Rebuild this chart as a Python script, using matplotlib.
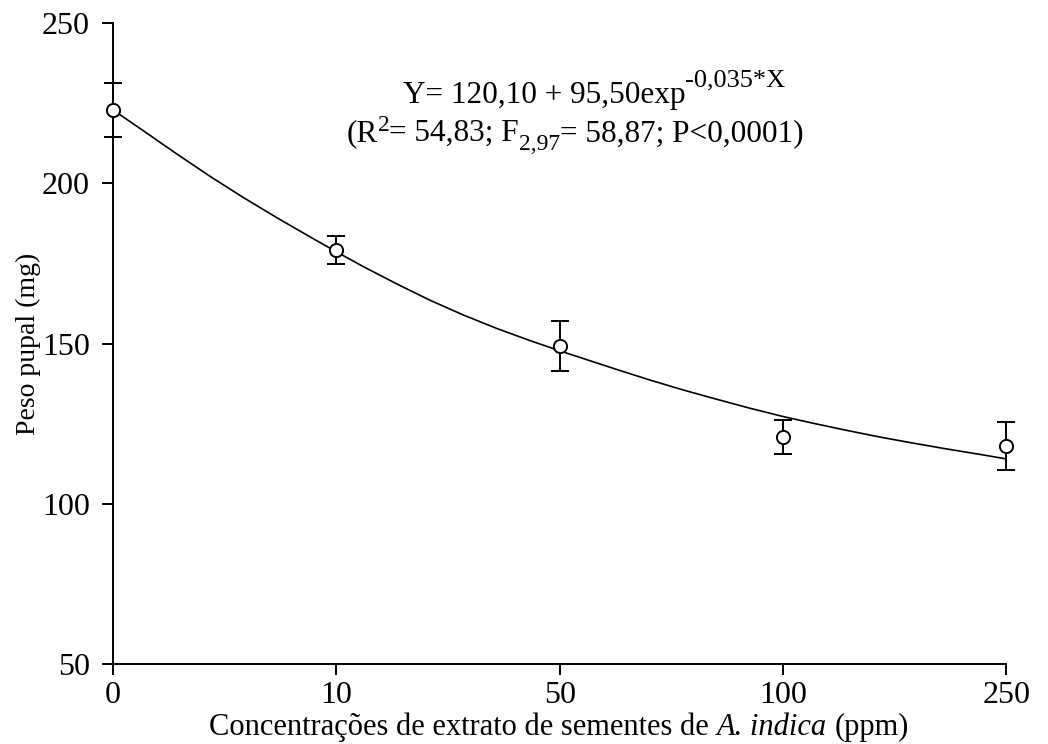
import numpy as np
import matplotlib
matplotlib.use("Agg")
import matplotlib.pyplot as plt
from matplotlib.transforms import IdentityTransform

plt.rcParams['font.family'] = ['Liberation Serif', 'DejaVu Serif']

# concentrations (categorical axis)
conc_labels = ['0', '10', '50', '100', '250']
peso_mean = [222.9, 179.2, 149.2, 120.8, 118.0]
peso_err = [8.3, 4.5, 7.9, 5.3, 7.4]

# fitted curve (position along category axis, value)
curve_pos = [0.000, 0.136, 0.285, 0.434, 0.583, 0.733, 0.882, 1.001, 1.121,
             1.271, 1.420, 1.569, 1.719, 1.868, 2.002, 2.107, 2.256, 2.405,
             2.554, 2.704, 2.853, 3.002, 3.137, 3.286, 3.436, 3.585, 3.734,
             3.883, 4.000]
curve_val = [222.9, 216.4, 209.2, 202.2, 195.6, 189.3, 183.3, 178.6, 174.0,
             168.6, 163.5, 158.9, 154.7, 150.9, 147.7, 145.3, 141.9, 138.6,
             135.5, 132.6, 129.8, 127.2, 125.1, 122.9, 120.8, 118.9, 117.1,
             115.4, 114.0]

fig = plt.figure(figsize=(10.48, 7.44), dpi=100)
ax = fig.add_axes([0.1078, 0.1075, 0.8524, 0.8615])

x = np.arange(len(conc_labels))
ax.plot(curve_pos, curve_val, color='black', lw=1.2, zorder=2)
ax.errorbar(x, peso_mean, yerr=peso_err, fmt='o', color='black',
            mfc='white', mec='black', ms=9.5, mew=1.4, elinewidth=1.4,
            capsize=6.8, capthick=1.4, clip_on=False, zorder=3)

ax.set_xlim(0, 4)
ax.set_ylim(50, 250)
ax.set_xticks(x)
ax.set_xticklabels(conc_labels)
ax.set_yticks([50, 100, 150, 200, 250])

for s in ['top', 'right']:
    ax.spines[s].set_visible(False)
for s in ['left', 'bottom']:
    ax.spines[s].set_linewidth(1.4)
ax.tick_params(direction='out', length=8, width=1.4, labelsize=23)
ax.tick_params(axis='y', pad=8.5)
ax.tick_params(axis='x', pad=4)

ax.set_ylabel("Peso pupal (mg)", fontsize=20, labelpad=1)


def chain_text(pieces, xc, yb):
    # pieces: (text, size, raise in px, style, space before); centred on xc
    renderer = fig.canvas.get_renderer()
    arts = []
    for s, size, dy, style, gap in pieces:
        t = fig.text(0, 0, s, fontsize=size, va='baseline', ha='left',
                     style=style, transform=IdentityTransform())
        arts.append((t, dy, gap, t.get_window_extent(renderer).width))
    total = sum(w + g for _, _, g, w in arts)
    xpos = xc - total / 2
    for t, dy, g, w in arts:
        xpos += g
        t.set_position((xpos, yb + dy))
        xpos += w


H = 744
chain_text([("Y= 120,10 + 95,50exp", 22.5, 0, 'normal', 0),
            ("-0,035*X", 19, 17, 'normal', 0)], 594, H - 103)
chain_text([("(R", 22.5, 0, 'normal', 0), ("2", 17, 10, 'normal', 0),
            ("= 54,83; F", 22.5, 0, 'normal', 0), ("2,97", 17, -9, 'normal', 0),
            ("= 58,87; P<0,0001)", 22.5, 0, 'normal', 0)], 575, H - 141)

sp = 22 * 100 / 72 * 0.25  # width of a space at 22 pt
chain_text([("Concentrações de extrato de sementes de", 22, 0, 'normal', 0),
            ("A. indica", 22, 0, 'italic', sp),
            ("(ppm)", 22, 0, 'normal', sp)], 559, H - 735)

fig.savefig("out.png", dpi=100)
